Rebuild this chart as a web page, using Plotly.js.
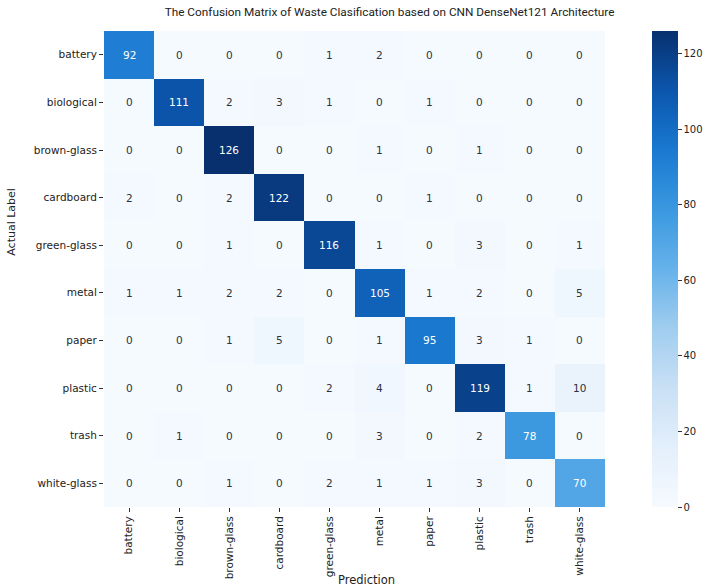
<!DOCTYPE html>
<html>
<head>
<meta charset="utf-8">
<script src="https://cdn.plot.ly/plotly-3.0.1.min.js"></script>
<style>html,body{margin:0;padding:0;background:#fff;}#chart{width:715px;height:587px;}</style>
</head>
<body>
<div id="chart"></div>
<script>
const categories = ["battery","biological","brown-glass","cardboard","green-glass","metal","paper","plastic","trash","white-glass"];
const row_battery     = [92, 0, 0, 0, 1, 2, 0, 0, 0, 0];
const row_biological  = [0, 111, 2, 3, 1, 0, 1, 0, 0, 0];
const row_brownGlass  = [0, 0, 126, 0, 0, 1, 0, 1, 0, 0];
const row_cardboard   = [2, 0, 2, 122, 0, 0, 1, 0, 0, 0];
const row_greenGlass  = [0, 0, 1, 0, 116, 1, 0, 3, 0, 1];
const row_metal       = [1, 1, 2, 2, 0, 105, 1, 2, 0, 5];
const row_paper       = [0, 0, 1, 5, 0, 1, 95, 3, 1, 0];
const row_plastic     = [0, 0, 0, 0, 2, 4, 0, 119, 1, 10];
const row_trash       = [0, 1, 0, 0, 0, 3, 0, 2, 78, 0];
const row_whiteGlass  = [0, 0, 1, 0, 2, 1, 1, 3, 0, 70];
const colorbarTicks = [0, 20, 40, 60, 80, 100, 120];

const z = [row_battery,row_biological,row_brownGlass,row_cardboard,row_greenGlass,row_metal,row_paper,row_plastic,row_trash,row_whiteGlass];

const blues = [
  [0.0, '#f5faff'],
  [0.125, '#e3effb'],
  [0.25, '#c9e0f5'],
  [0.375, '#a0cdef'],
  [0.5, '#66b2ea'],
  [0.625, '#3a98e0'],
  [0.75, '#1a79d0'],
  [0.875, '#0b56ad'],
  [1.0, '#08306f']
];

const annotations = [];
z.forEach((row, i) => {
  row.forEach((v, j) => {
    annotations.push({
      x: categories[j], y: categories[i], xref: 'x', yref: 'y',
      text: String(v), showarrow: false,
      font: {family: 'DejaVu Sans', size: 10.5, color: v > 50 ? '#ffffff' : '#2a3440'}
    });
  });
});
annotations.push({
  text: 'Actual Label', xref: 'paper', yref: 'paper', x: -0.185, y: 0.6,
  xanchor: 'center', yanchor: 'middle', textangle: -90, showarrow: false,
  font: {family: 'DejaVu Sans', size: 11, color: '#222'}
});
annotations.push({
  text: 'Prediction', xref: 'paper', yref: 'paper', x: 0.523, y: -0.153,
  xanchor: 'center', yanchor: 'middle', showarrow: false,
  font: {family: 'DejaVu Sans', size: 11.5, color: '#222'}
});

const trace = {
  type: 'heatmap',
  x: categories,
  y: categories,
  z: z,
  zmin: 0,
  zmax: 126,
  colorscale: blues,
  showscale: true,
  colorbar: {
    x: 1.094, xanchor: 'left', xref: 'paper', xpad: 0, ypad: 0,
    y: 0, yanchor: 'bottom', len: 1, lenmode: 'fraction',
    thickness: 26, outlinewidth: 0,
    tickvals: colorbarTicks, ticks: 'outside', ticklen: 4, tickcolor: '#333',
    tickfont: {family: 'DejaVu Sans', size: 10, color: '#222'}
  },
  hoverongaps: false
};

const layout = {
  width: 715, height: 587,
  margin: {l: 104, r: 91, t: 31, b: 80},
  paper_bgcolor: '#ffffff', plot_bgcolor: '#ffffff',
  title: {
    text: 'The Confusion Matrix of Waste Clasification based on CNN DenseNet121 Architecture',
    x: 0.57, xanchor: 'center', xref: 'paper', y: 0.987, yanchor: 'top',
    font: {family: 'Liberation Sans Narrow, Roboto, sans-serif', size: 11.8, color: '#222'}
  },
  xaxis: {
    type: 'category', tickangle: -90, ticks: 'outside', ticklen: 4, tickcolor: '#333',
    tickfont: {family: 'DejaVu Sans', size: 10.5, color: '#222'},
    showgrid: false, zeroline: false, showline: false
  },
  yaxis: {
    type: 'category', autorange: 'reversed', ticks: 'outside', ticklen: 4, tickcolor: '#333',
    tickfont: {family: 'DejaVu Sans', size: 10.5, color: '#222'},
    showgrid: false, zeroline: false, showline: false
  },
  annotations: annotations
};

Plotly.newPlot('chart', [trace], layout, {displayModeBar: false, staticPlot: true});
</script>
</body>
</html>
